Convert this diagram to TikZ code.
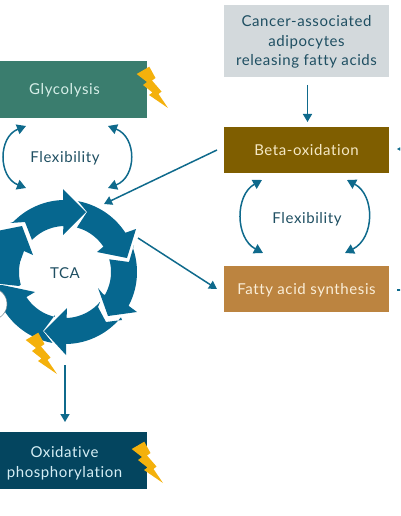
\documentclass[tikz,border=0pt]{standalone}
\usepackage{fontspec}
\setmainfont[LetterSpace=4,Ligatures=NoCommon]{Lato}
\usetikzlibrary{arrows.meta}
\definecolor{ringc}{HTML}{06678F}
\definecolor{linec}{HTML}{0F6A8C}
\definecolor{txt}{HTML}{1F4F62}
\definecolor{boltc}{HTML}{F4B10C}
\tikzset{
  box/.style={draw=none,minimum width=165pt,inner sep=0pt,align=center,font=\fontsize{15}{19.8}\selectfont},
  lab/.style={text=txt,inner sep=0pt,font=\fontsize{15}{19.8}\selectfont},
  conn/.style={draw=linec,line width=1.5pt,-{Triangle[length=8pt,width=9pt]}},
  flex/.style={draw=linec,line width=1.5pt,{Triangle[length=9pt,width=10pt]}-{Triangle[length=9pt,width=10pt]}},
  seg/.style={fill=ringc,draw=none},
  boltf/.style={fill=boltc,draw=none}
}
\newcommand{\boltat}[2]{\fill[boltf,shift={(#1,#2)}] (136.7,74)--(149.3,66.7)--(155.5,78)--(152,80.5)--(161.5,91.5)--(158.5,94)--(168,108)--(149,95)--(152.5,92.5)--(143,85)--(147,82)--cycle;}
\begin{document}
\begin{tikzpicture}[x=1pt,y=-1pt]
\useasboundingbox (0,0) rectangle (400,516);
\clip (0,0) rectangle (400,516);
% boxes
\node[box,minimum height=72pt,fill={rgb,255:red,211;green,217;blue,220}] (cancer) at (306.5,41) {};
\node[box,text=txt] (cancertxt) at (306.5,42) {Cancer-associated\\adipocytes\\releasing fatty acids};
\node[box,minimum height=46pt,fill={rgb,255:red,127;green,94;blue,0}] (beta) at (306.5,150) {};
\node[box,text={rgb,255:red,245;green,232;blue,196}] (betatxt) at (306.5,150) {Beta-oxidation};
\node[box,minimum height=46pt,fill={rgb,255:red,188;green,132;blue,64}] (fas) at (306.5,289) {};
\node[box,text={rgb,255:red,250;green,238;blue,216}] (fastxt) at (306.5,290.5) {Fatty acid synthesis};
\node[box,minimum height=57pt,fill={rgb,255:red,58;green,125;blue,110}] (glyco) at (64.5,89.5) {};
\node[box,text={rgb,255:red,214;green,238;blue,232}] (glycotxt) at (64.5,90.5) {Glycolysis};
\node[box,minimum height=57pt,fill={rgb,255:red,4;green,69;blue,95}] (oxphos) at (64.5,460.5) {};
\node[box,text={rgb,255:red,213;green,238;blue,245}] (oxtxt) at (64.5,463) {Oxidative\\phosphorylation};
\node[lab] (flexa) at (65,158.5) {Flexibility};
\node[lab] (flexb) at (307,219.5) {Flexibility};
% ring
\fill[seg] (10,223) -- (25,222) -- (32,240) -- plot[domain=224:268,samples=24] ({65+46*cos(\x)},{272+46*sin(\x)}) -- (63,235) -- (86,212) -- (63,189) -- (63,200) -- plot[domain=268:224,samples=24] ({65+72*cos(\x)},{272+72*sin(\x)}) -- cycle;
\fill[seg] (78,201) -- plot[domain=280:327,samples=24] ({65+72*cos(\x)},{272+72*sin(\x)}) -- (136,229) -- (127,258) -- (97,252) -- (103,247) -- plot[domain=327:285,samples=24] ({65+46*cos(\x)},{272+46*sin(\x)}) -- (87,212) -- cycle;
\fill[seg] (134,245) -- plot[domain=341:388,samples=24] ({65+72*cos(\x)},{272+72*sin(\x)}) -- (137,312) -- (108,316) -- (98,288) -- (103,294) -- plot[domain=390:344,samples=24] ({65+46*cos(\x)},{272+46*sin(\x)}) -- (129,262) -- cycle;
\fill[seg] (122,320) -- (106,322) -- (98,307) -- plot[domain=40:88,samples=24] ({65+46*cos(\x)},{272+46*sin(\x)}) -- (67,308) -- (44,331) -- (66,355) -- (66,344) -- plot[domain=89:39,samples=24] ({65+72*cos(\x)},{272+72*sin(\x)}) -- cycle;
\fill[seg] (55,315) -- plot[domain=103:147,samples=24] ({65+46*cos(\x)},{272+46*sin(\x)}) -- (35,292) -- (2,285) -- (-8,285) -- (-8,316) -- plot[domain=149:100,samples=24] ({65+72*cos(\x)},{272+72*sin(\x)}) -- (43,331) -- cycle;
\fill[seg] (-8,232) -- (22,226) -- (33,255) -- (24,251) -- plot[domain=193:164,samples=24] ({65+46*cos(\x)},{272+46*sin(\x)}) -- (19,286) -- (-8,283) -- cycle;
\node[draw={rgb,255:red,120;green,140;blue,150},fill=white,line width=0.5pt,circle,minimum size=32pt,inner sep=0pt] (sidecirc) at (-9,304) {};
\node[lab] (tca) at (65,273) {TCA};
% bolts
\boltat{0}{0}
\boltat{-111}{266}
\boltat{-5}{375}
% free ends
\coordinate (ga) at (26,126); \coordinate (gb) at (26,188);
\coordinate (gc) at (108,126); \coordinate (gd) at (108,188);
\coordinate (ba) at (262,180); \coordinate (bb) at (263,253);
\coordinate (bc) at (347,180); \coordinate (bd) at (345,253);
\coordinate (betaout) at (217,150); \coordinate (ringin) at (104,204);
\coordinate (ringout) at (138,238); \coordinate (fasin) at (217,289);
\coordinate (ca) at (307.5,85); \coordinate (cb) at (307.5,122);
\coordinate (oa) at (65,365); \coordinate (ob) at (65,422);
\coordinate (ra) at (402,149); \coordinate (rb) at (397,149);
\coordinate (rc) at (402,290); \coordinate (rd) at (397,290);
% connectors
\draw[flex] (ga) .. controls (-2,137) and (-2,177) .. (gb);
\draw[flex] (gc) .. controls (137,137) and (137,177) .. (gd);
\draw[flex] (ba) .. controls (235,195) and (235,238) .. (bb);
\draw[flex] (bc) .. controls (375,195) and (375,238) .. (bd);
\draw[conn] (ca) -- (cb);
\draw[conn] (betaout) -- (ringin);
\draw[conn] (ringout) -- (fasin);
\draw[conn] (oa) -- (ob);
\draw[conn] (ra) -- (rb);
\draw[draw=linec,line width=1.5pt] (rc) -- (rd);
\end{tikzpicture}
\end{document}
